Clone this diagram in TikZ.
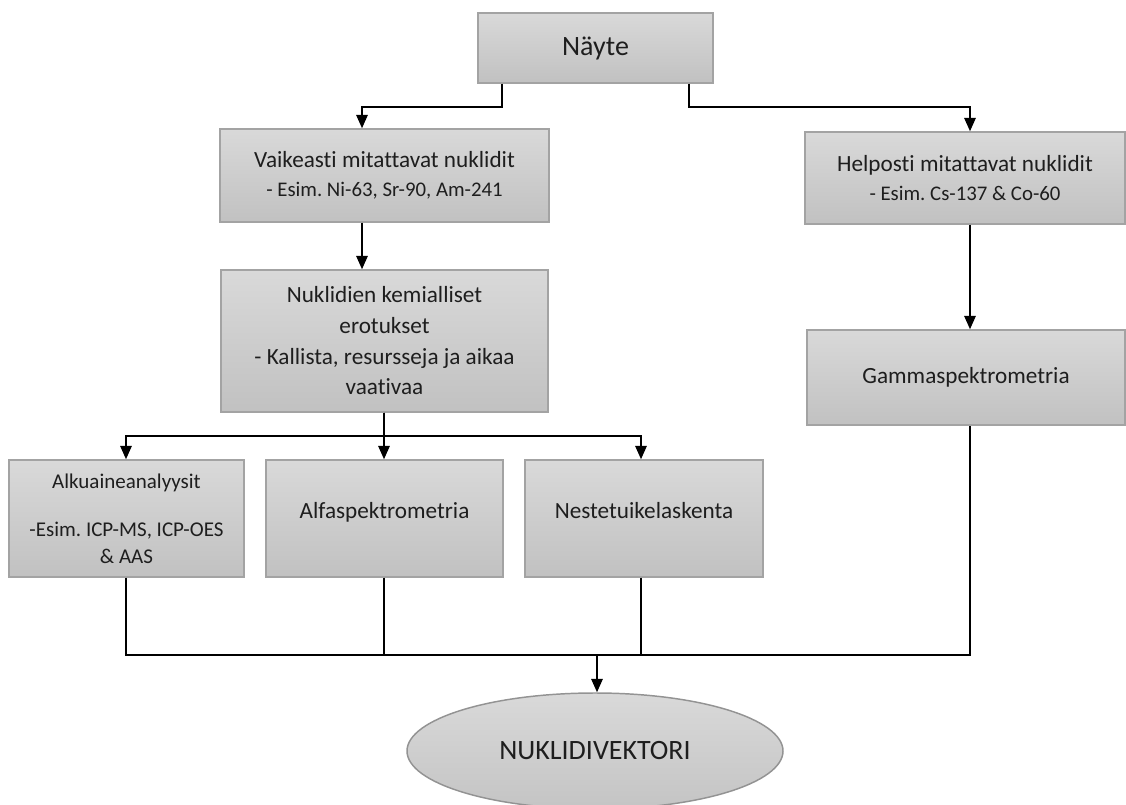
\documentclass[tikz,border=0pt]{standalone}
\usepackage{fontspec}
\setmainfont{Carlito}[Ligatures=NoCommon]
\usetikzlibrary{arrows.meta,shapes.geometric}
\frenchspacing
\definecolor{boxtop}{HTML}{D9D9D9}
\definecolor{boxbot}{HTML}{C1C1C1}
\definecolor{boxline}{HTML}{A3A3A3}
\definecolor{ink}{HTML}{1E1E1E}
\newcommand{\mainsize}{\fontsize{17.4}{23}\selectfont}
\newcommand{\subsize}{\fontsize{15.6}{19.5}\selectfont}
\tikzset{
  box/.style={rectangle, draw=boxline, line width=1.1pt, top color=boxtop,
    bottom color=boxbot, text=ink, align=center, inner sep=0pt,
    font=\mainsize},
  vec/.style={ellipse, draw=boxline!90!black, line width=1.1pt,
    top color=boxtop, bottom color=boxbot!95!white, text=ink,
    inner sep=0pt, font=\fontsize{21}{25}\selectfont},
  link/.style={draw=black, line width=1.4pt},
  arr/.style={link, -{Triangle[length=10pt,width=8.5pt]}}
}
\begin{document}
\begin{tikzpicture}[x=0.75pt, y=-0.75pt]
\useasboundingbox (0,0) rectangle (1126,805);

% boxes
\node[box, minimum width=176.25pt, minimum height=52.5pt,
  font=\fontsize{21}{25}\selectfont] (nayte) at (595.5,48) {Näyte};
\node[box, minimum width=246.75pt, minimum height=69.75pt] (vaik) at (384.5,175.5)
  {Vaikeasti mitattavat nuklidit\\[-1pt]{\subsize - Esim. Ni-63, Sr-90, Am-241}};
\node[box, minimum width=240pt, minimum height=69pt] (help) at (965,178)
  {Helposti mitattavat nuklidit\\[-1pt]{\subsize - Esim. Cs-137 \& Co-60}};
\node[box, minimum width=245.25pt, minimum height=106.5pt] (nukl) at (384.5,341)
  {Nuklidien kemialliset\\erotukset\\- Kallista, resursseja ja aikaa\\vaativaa};
\node[box, minimum width=238.5pt, minimum height=71.25pt] (gamma) at (966,377.5)
  {Gammaspektrometria};
\node[box, minimum width=176.25pt, minimum height=87.75pt,
  font=\fontsize{15.75}{20.25}\selectfont] (alku) at (126.5,518.5)
  {Alkuaineanalyysit\\[16pt]-Esim. ICP-MS, ICP-OES\\\& AAS};
\node[box, minimum width=177.75pt, minimum height=87.75pt] (alfa) at (384.5,518.5)
  {\raisebox{12pt}{Alfaspektrometria}};
\node[box, minimum width=178.5pt, minimum height=87.75pt] (neste) at (644,518.5)
  {\raisebox{12pt}{Nestetuikelaskenta}};
\node[vec, minimum width=282pt, minimum height=87pt] (vekt) at (595,751)
  {NUKLIDIVEKTORI};

% bend points
\coordinate (jL) at (362,107);
\coordinate (jR) at (970,107);
\coordinate (bL) at (126,436);
\coordinate (bM) at (384,436);
\coordinate (bR) at (641,436);
\coordinate (m) at (597,655);

% from the sample to the two nuclide groups
\draw[arr] (nayte.south -| 502,0) |- (jL) -- (vaik.north -| jL);
\draw[arr] (nayte.south -| 689,0) |- (jR) -- (help.north -| jR);

% difficult nuclides branch
\draw[arr] (vaik.south -| jL) -- (nukl.north -| jL);
\draw[arr] (nukl.south -| bM) |- (bL) -- (alku.north -| bL);
\draw[arr] (nukl.south -| bM) |- (bR) -- (neste.north -| bR);
\draw[arr] (nukl.south -| bM) -- (alfa.north -| bM);

% easy nuclides branch
\draw[arr] (help.south -| jR) -- (gamma.north -| jR);

% all methods collect into the nuclide vector
\draw[link] (alku.south -| bL) -- (bL |- m) -| (gamma.south -| jR);
\draw[link] (alfa.south -| bM) -- (bM |- m);
\draw[link] (neste.south -| bR) -- (bR |- m);
\draw[arr] (m) -- (vekt.north -| m);
\end{tikzpicture}
\end{document}
